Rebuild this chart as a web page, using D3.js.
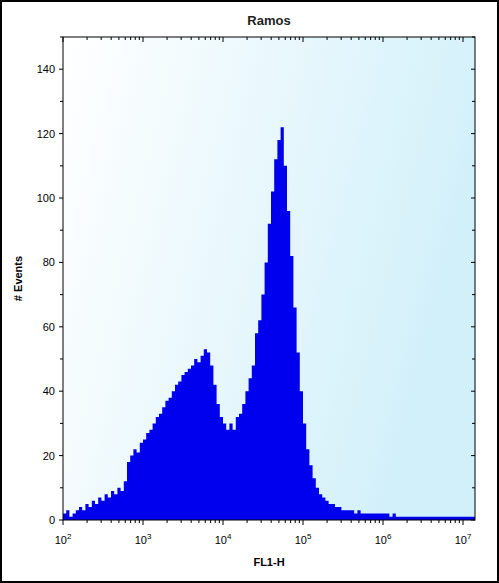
<!DOCTYPE html><html><head><script src="https://cdn.jsdelivr.net/npm/d3@7"></script>
<style>body{margin:0;background:#fff}svg{display:block;font-family:"Liberation Sans",Arial,sans-serif}</style></head><body>
<svg id="c" width="499" height="583"></svg>
<script>
const title="Ramos", xLabel="FL1-H", yLabel="# Events";
const logStart=2, logStep=0.04;
const counts=[2,3,1,2,3,4,3,5,4,6,5,7,6,8,7,9,8,10,9,12,
18,20,22,21,24,25,27,28,30,32,33,35,37,38,40,42,43,45,46,47,48,50,49,51,53,52,
48,42,36,32,30,28,30,28,32,33,36,40,44,48,58,62,70,80,92,102,112,118,122,110,96,
82,66,52,40,30,22,17,13,10,8,7,6,5,5,4,4,3,3,3,3,2,3,2,2,2,2,2,2,2,2,
2,1,2,1,1,1,1,1,1,1,1,1,1,1,1,1,1,1,1,1,1,1,1,1,1,1,1,1,1];
const yTicks=[0,20,40,60,80,100,120,140];
const xTicks=[2,3,4,5,6,7];
const svg=d3.select("#c");
svg.append("rect").attr("x",1).attr("y",1).attr("width",497).attr("height",581).attr("fill","#fff").attr("stroke","#000").attr("stroke-width",2);
const L=63,R=475,T=37,B=520;
const x=d3.scaleLinear().domain([2,2+(R-L)/80]).range([L,R]);
const y=d3.scaleLinear().domain([0,150]).range([B,T]);
const defs=svg.append("defs");
const g=defs.append("linearGradient").attr("id","bg").attr("x1","0").attr("y1","0").attr("x2","1").attr("y2","0.3");
g.append("stop").attr("offset","0").attr("stop-color","#ffffff");
g.append("stop").attr("offset","1").attr("stop-color","#d2f0fa");
svg.append("rect").attr("x",L).attr("y",T).attr("width",R-L).attr("height",B-T).attr("fill","url(#bg)");
const data=counts.map((c,i)=>({l:logStart+i*logStep,c}));
data.push({l:x.domain()[1],c:counts[counts.length-1]});
svg.append("path").datum(data).attr("fill","#0000ee")
 .attr("d",d3.area().x(d=>x(d.l)).y0(B).y1(d=>y(d.c)).curve(d3.curveStepAfter));
const fr=svg.append("g").attr("stroke","#000").attr("stroke-width",1);
fr.append("rect").attr("x",L).attr("y",T).attr("width",R-L).attr("height",B-T).attr("fill","none");
for(let v=0;v<=150;v+=10){const major=v%20===0;const len=major?4:3;
 fr.append("line").attr("x1",L-len).attr("x2",L).attr("y1",y(v)).attr("y2",y(v));
 fr.append("line").attr("x1",R-len).attr("x2",R).attr("y1",y(v)).attr("y2",y(v));}
yTicks.forEach(v=>svg.append("text").attr("x",L-8).attr("y",y(v)+4).attr("text-anchor","end").attr("font-size",11).text(v));
for(let d=2;d<=7;d++){for(let k=1;k<=9;k++){const lv=d+Math.log10(k);if(lv>x.domain()[1])continue;
 const len=k===1?5:3;
 fr.append("line").attr("x1",x(lv)).attr("x2",x(lv)).attr("y1",B).attr("y2",B+len);
 fr.append("line").attr("x1",x(lv)).attr("x2",x(lv)).attr("y1",T).attr("y2",T+len);}}
xTicks.forEach(d=>{const t=svg.append("text").attr("x",x(d)).attr("y",B+24).attr("text-anchor","middle").attr("font-size",11);
 t.append("tspan").text("10");t.append("tspan").attr("dy",-5).attr("font-size",8).text(d);});
svg.append("text").attr("x",(L+R)/2).attr("y",B+46).attr("text-anchor","middle").attr("font-size",11).attr("font-weight","bold").text(xLabel);
svg.append("text").attr("transform",`translate(22,${(T+B)/2}) rotate(-90)`).attr("text-anchor","middle").attr("font-size",11).attr("font-weight","bold").text(yLabel);
svg.append("text").attr("x",(L+R)/2).attr("y",25).attr("text-anchor","middle").attr("font-size",13).attr("font-weight","bold").attr("fill","#222").text(title);
</script></body></html>
